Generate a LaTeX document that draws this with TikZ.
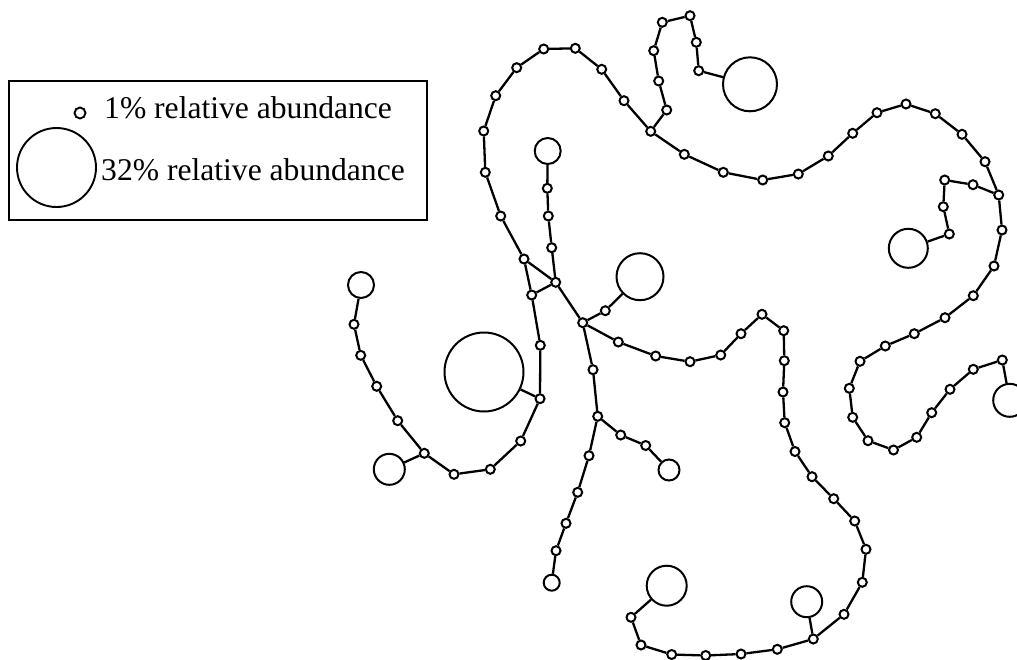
\documentclass[tikz,border=0pt]{standalone}
\usepackage{fontspec}
\setmainfont{Liberation Serif}
\begin{document}
\begin{tikzpicture}[x=1pt,y=-1pt,
  hap/.style={circle,draw,line width=2pt,fill=white,inner sep=0pt,minimum size=9pt},
  bighap/.style={circle,draw,line width=2pt,fill=white,inner sep=0pt,minimum size=#1},
  link/.style={line width=2.3pt},
  legendtext/.style={anchor=base west,inner sep=0pt,font=\fontsize{31.6}{37}\selectfont}]
\useasboundingbox (0,0) rectangle (1017,659);
\clip (0,0) rectangle (1017,659);

% legend
\draw[line width=1.4pt] (9,81) rectangle (427,220);
\node[hap,minimum size=11pt,line width=1.9pt] (key1) at (80,113) {};
\node[bighap=79pt,line width=1.9pt] (key32) at (56.5,167.5) {};
\node[legendtext] (lab1) at (104,118) {1\% relative abundance};
\node[legendtext] (lab32) at (101,180) {32\% relative abundance};

% upper arc
\node[hap] (t1) at (500.7,216) {};
\node[hap] (t2) at (485.3,172.3) {};
\node[hap] (t3) at (483.7,131) {};
\node[hap] (t4) at (495.7,95.7) {};
\node[hap] (t5) at (516.7,67.7) {};
\node[hap] (t6) at (543.7,49) {};
\node[hap] (t7) at (575.3,48.3) {};
\node[hap] (t8) at (601.7,69.3) {};
\node[hap] (t9) at (624,100.7) {};
\node[hap] (t10) at (650.7,131.3) {};
\node[hap] (t11) at (684.3,154.3) {};
\node[hap] (t12) at (723.3,172.3) {};
\node[hap] (t13) at (762.7,180) {};
\node[hap] (t14) at (798.3,174) {};
\node[hap] (t15) at (828.3,156) {};
\node[hap] (t16) at (852.7,133.3) {};
\node[hap] (t17) at (877,112.7) {};
\node[hap] (t18) at (906,104) {};
\node[hap] (t19) at (935.3,113.7) {};
\node[hap] (t20) at (962,134.3) {};
\node[hap] (t21) at (985,161.7) {};
\node[hap] (t22) at (998.7,195) {};

% hook at the top
\node[hap] (u1) at (666.7,110) {};
\node[hap] (u2) at (658.7,81) {};
\node[hap] (u3) at (653.7,50.7) {};
\node[hap] (u4) at (662.3,22.3) {};
\node[hap] (u5) at (690,15.7) {};
\node[hap] (u6) at (696.3,42.3) {};
\node[hap] (u7) at (698.7,70.7) {};
\node[bighap=54pt] (U) at (750,84.3) {};

% right side
\node[hap] (r1) at (1002,230) {};
\node[hap] (r2) at (994,266) {};
\node[hap] (r3) at (973.3,295.7) {};
\node[hap] (r4) at (945,317.7) {};
\node[hap] (r5) at (914.3,333.7) {};
\node[hap] (r6) at (885.3,346) {};
\node[hap] (r7) at (860,361.3) {};
\node[hap] (r8) at (849.3,388.3) {};
\node[hap] (r9) at (852.7,417.3) {};
\node[hap] (r10) at (868,440.7) {};
\node[hap] (r11) at (893.5,450) {};
\node[hap] (r12) at (916.7,437.3) {};
\node[hap] (r13) at (931.7,412.7) {};
\node[hap] (r14) at (950,389.3) {};
\node[hap] (r15) at (973.3,369.3) {};
\node[hap] (r16) at (1002.3,360) {};
\node[bighap=33pt] (R) at (1009.7,400.3) {};

\node[hap] (q1) at (973,184.7) {};
\node[hap] (q2) at (944.7,180) {};
\node[hap] (q3) at (943.3,206.7) {};
\node[hap] (q4) at (949.3,234) {};
\node[bighap=39pt] (Q) at (908.3,248.3) {};

% centre
\node[hap] (c1) at (524,259) {};
\node[hap] (c2) at (531.7,295) {};
\node[hap] (c3) at (555.7,282.3) {};
\node[hap] (c4) at (551.7,247.7) {};
\node[hap] (c5) at (548.3,216) {};
\node[hap] (c6) at (547.3,188.3) {};
\node[bighap=26pt] (C) at (547.7,151) {};
\node[hap] (hub) at (582.7,322.7) {};
\node[hap] (h1) at (605.3,310.7) {};
\node[bighap=47pt] (H) at (640,276.7) {};

% lower loop
\node[hap] (p1) at (618.3,342) {};
\node[hap] (p2) at (655.7,356) {};
\node[hap] (p3) at (690,361.7) {};
\node[hap] (p4) at (720.7,355) {};
\node[hap] (p5) at (741,333.7) {};
\node[hap] (p6) at (762,314.3) {};
\node[hap] (p7) at (783.7,330.7) {};
\node[hap] (p8) at (784.3,360.7) {};
\node[hap] (p9) at (783,392) {};
\node[hap] (p10) at (784.7,422.7) {};
\node[hap] (p11) at (795,451.5) {};
\node[hap] (p12) at (812,476.7) {};
\node[hap] (p13) at (833.7,498.7) {};
\node[hap] (p14) at (854.7,521) {};
\node[hap] (p15) at (866,549.3) {};
\node[hap] (p16) at (862.3,582.3) {};
\node[hap] (p17) at (844,614.3) {};
\node[hap] (p18) at (813.3,639) {};
\node[bighap=31pt] (P) at (806.7,601.7) {};
\node[hap] (p19) at (777.3,649.3) {};
\node[hap] (p20) at (741,654) {};
\node[hap] (p21) at (705.7,655.5) {};
\node[hap] (p22) at (671.7,654.5) {};
\node[hap] (p23) at (641,645) {};
\node[hap] (p24) at (631,617.3) {};
\node[bighap=40pt] (B) at (666.7,585.7) {};

% downward branch
\node[hap] (d1) at (593,369.7) {};
\node[hap] (d2) at (597.7,416.3) {};
\node[hap] (d3) at (620.7,435) {};
\node[hap] (d4) at (645.7,445.5) {};
\node[bighap=21pt] (D) at (669,470) {};
\node[hap] (d5) at (589,455.7) {};
\node[hap] (d6) at (577.7,492.3) {};
\node[hap] (d7) at (566,523.3) {};
\node[hap] (d8) at (556,550.7) {};
\node[bighap=16pt] (E) at (551.7,582.7) {};

% left branch
\node[hap] (l1) at (540.3,345.3) {};
\node[hap] (l2) at (540,398.7) {};
\node[bighap=79pt] (L) at (484,372) {};
\node[hap] (l3) at (520.7,441) {};
\node[hap] (l4) at (490.3,469.3) {};
\node[hap] (l5) at (454,474.3) {};
\node[hap] (l6) at (424.3,453.3) {};
\node[bighap=31pt] (F) at (389.3,469.3) {};
\node[hap] (l7) at (397.7,420.7) {};
\node[hap] (l8) at (376.7,386.3) {};
\node[hap] (l9) at (360.7,355.3) {};
\node[hap] (l10) at (354,324.3) {};
\node[bighap=26pt] (G) at (361,285) {};

% connectors
\draw[link] (t1) -- (t2) -- (t3) -- (t4) -- (t5) -- (t6) -- (t7) -- (t8) -- (t9) -- (t10)
  -- (t11) -- (t12) -- (t13) -- (t14) -- (t15) -- (t16) -- (t17) -- (t18) -- (t19)
  -- (t20) -- (t21) -- (t22);
\draw[link] (t10) -- (u1) -- (u2) -- (u3) -- (u4) -- (u5) -- (u6) -- (u7) -- (U);
\draw[link] (t22) -- (r1) -- (r2) -- (r3) -- (r4) -- (r5) -- (r6) -- (r7) -- (r8) -- (r9)
  -- (r10) -- (r11) -- (r12) -- (r13) -- (r14) -- (r15) -- (r16) -- (R);
\draw[link] (t22) -- (q1) -- (q2) -- (q3) -- (q4) -- (Q);
\draw[link] (t1) -- (c1) -- (c2) -- (c3) -- (c1);
\draw[link] (c3) -- (c4) -- (c5) -- (c6) -- (C);
\draw[link] (c3) -- (hub) -- (h1) -- (H);
\draw[link] (hub) -- (p1) -- (p2) -- (p3) -- (p4) -- (p5) -- (p6) -- (p7) -- (p8) -- (p9)
  -- (p10) -- (p11) -- (p12) -- (p13) -- (p14) -- (p15) -- (p16) -- (p17) -- (p18)
  -- (p19) -- (p20) -- (p21) -- (p22) -- (p23) -- (p24) -- (B);
\draw[link] (p18) -- (P);
\draw[link] (hub) -- (d1) -- (d2) -- (d3) -- (d4) -- (D);
\draw[link] (d2) -- (d5) -- (d6) -- (d7) -- (d8) -- (E);
\draw[link] (c2) -- (l1) -- (l2) -- (L);
\draw[link] (l2) -- (l3) -- (l4) -- (l5) -- (l6) -- (F);
\draw[link] (l6) -- (l7) -- (l8) -- (l9) -- (l10) -- (G);
\end{tikzpicture}
\end{document}
